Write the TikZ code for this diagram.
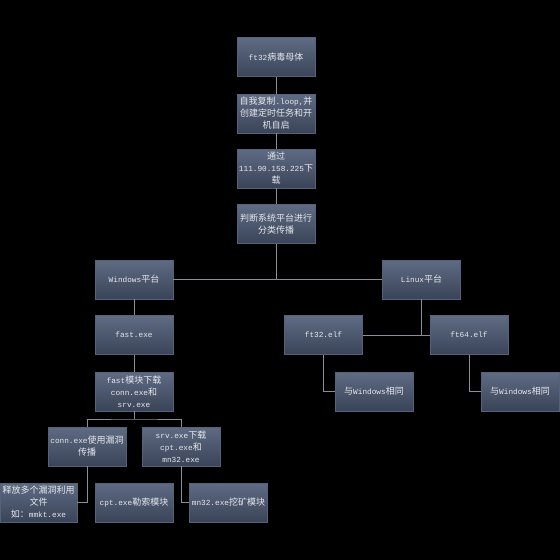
\documentclass[tikz,border=0pt]{standalone}
\usepackage{fontspec}
\setmainfont{Noto Sans CJK SC}
\newfontfamily\latfont{Liberation Mono}[Scale=0.86]
\newcommand\latn[1]{{\latfont #1}}
\tikzset{
  x=1pt, y=-1pt,
  box/.style={draw=boxedge, line width=0.5pt, top color=boxtop, bottom color=boxbot,
    minimum width=78pt, minimum height=39pt, inner sep=1pt, align=center,
    text=boxtext, font=\fontsize{9}{12}\selectfont},
  link/.style={draw=linkgray, line width=0.8pt}
}
\definecolor{boxtop}{HTML}{5E6B83}
\definecolor{boxbot}{HTML}{3A4458}
\definecolor{boxedge}{HTML}{55627A}
\definecolor{boxtext}{HTML}{E6E8EC}
\definecolor{linkgray}{HTML}{8A8E96}
\begin{document}
\begin{tikzpicture}
\fill[black] (0,0) rectangle (560,560);
\useasboundingbox (0,0) rectangle (560,560);
\node[box] (n1) at (276,57) {\latn{ft32}病毒母体};
\node[box] (n2) at (276,113.5) {自我复制\latn{.loop,}并\\创建定时任务和开\\机自启};
\node[box] (n3) at (276,168.5) {通过\\\latn{111.90.158.225}下\\载};
\node[box] (n4) at (276,224) {判断系统平台进行\\分类传播};
\node[box] (win) at (134,279.5) {\latn{Windows}平台};
\node[box] (fast) at (134,335) {\latn{fast.exe}};
\node[box] (fdl) at (134,391.5) {\latn{fast}模块下载\\\latn{conn.exe}和\\\latn{srv.exe}};
\node[box] (conn) at (87,446.5) {\latn{conn.exe}使用漏洞\\传播};
\node[box] (srv) at (181,446.5) {\latn{srv.exe}下载\\\latn{cpt.exe}和\\\latn{mn32.exe}};
\node[box, minimum width=77pt] (rel) at (38.5,502.5) {释放多个漏洞利用\\文件\\如：\latn{mmkt.exe}};
\node[box] (cpt) at (134,502.5) {\latn{cpt.exe}勒索模块};
\node[box] (mn) at (228.5,502.5) {\latn{mn32.exe}挖矿模块};
\node[box] (lin) at (421.5,279.5) {\latn{Linux}平台};
\node[box] (f32) at (323.5,335) {\latn{ft32.elf}};
\node[box] (f64) at (469,335) {\latn{ft64.elf}};
\node[box] (s1) at (374,391.5) {与\latn{Windows}相同};
\node[box] (s2) at (520,391.5) {与\latn{Windows}相同};
\coordinate (split) at (134,419);
\path[link] (n1) -- (n2);
\path[link] (n2) -- (n3);
\path[link] (n3) -- (n4);
\path[link] (n4.south) -- (n4.south |- win.east);
\path[link] (win.east) -- (lin.west);
\path[link] (win) -- (fast);
\path[link] (fast) -- (fdl);
\path[link] (fdl.south) -- (split);
\path[link] (conn.north) |- (split) -| (srv.north);
\path[link] (conn.south) |- (rel.east);
\path[link] (srv.south) |- (mn.west);
\path[link] (lin.south) -- (lin.south |- f32.east);
\path[link] (f32.east) -- (f64.west);
\path[link] (f32.south) |- (s1.west);
\path[link] (f64.south) |- (s2.west);
\end{tikzpicture}
\end{document}
